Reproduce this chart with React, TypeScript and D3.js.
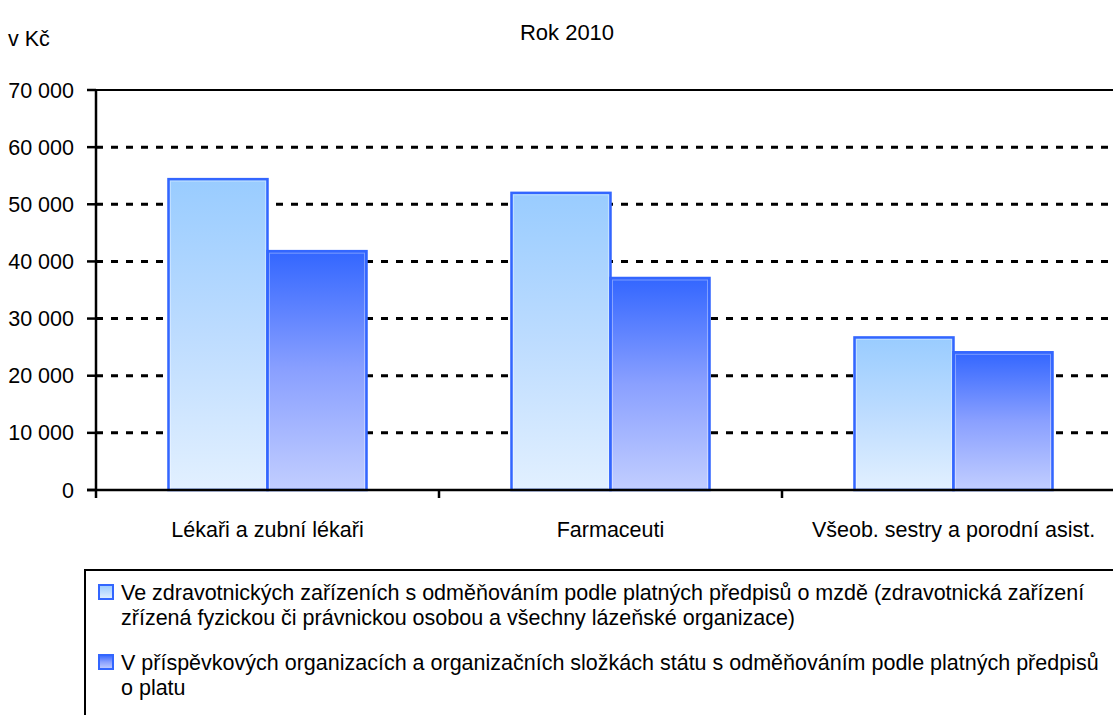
import { useEffect, useRef } from 'react';
import * as d3 from 'd3';

// Chart data (values in CZK)
const categories = ['Lékaři a zubní lékaři', 'Farmaceuti', 'Všeob. sestry a porodní asist.'];
const seriesNames = [
  'Ve zdravotnických zařízeních s odměňováním podle platných předpisů o mzdě (zdravotnická zařízení zřízená fyzickou či právnickou osobou a všechny lázeňské organizace)',
  'V příspěvkových organizacích a organizačních složkách státu s odměňováním podle platných předpisů o platu',
];
const legendLines = [
  ['Ve zdravotnických zařízeních s odměňováním podle platných předpisů o mzdě (zdravotnická zařízení', 'zřízená fyzickou či právnickou osobou a všechny lázeňské organizace)'],
  ['V příspěvkových organizacích a organizačních složkách státu s odměňováním podle platných předpisů', 'o platu'],
];
const mzdaValues = [54400, 52000, 26700];
const platValues = [41800, 37100, 24100];
const yTicks = [0, 10000, 20000, 30000, 40000, 50000, 60000, 70000];
const title = 'Rok 2010';
const unitLabel = 'v Kč';

export default function App() {
  const svgRef = useRef<SVGSVGElement>(null);

  useEffect(() => {
    const svg = d3.select(svgRef.current);
    svg.selectAll('*').remove();

    const W = 1113;
    const H = 715;
    const left = 96;
    const top = 90;
    const bottom = 490;
    const font = '"Liberation Sans", Arial, sans-serif';
    const fs = '21.5px';

    svg.attr('width', W).attr('height', H);

    const defs = svg.append('defs');
    const grads = [
      { id: 'g-mzda', stops: [['0%', '#99ccff'], ['50%', '#bddcff'], ['100%', '#e2f0ff']] },
      { id: 'g-plat', stops: [['0%', '#3366ff'], ['50%', '#8aa0ff'], ['100%', '#c2ceff']] },
    ];
    grads.forEach(g => {
      const lg = defs.append('linearGradient')
        .attr('id', g.id)
        .attr('x1', '0%').attr('y1', '0%')
        .attr('x2', '0%').attr('y2', '100%');
      g.stops.forEach(([o, c]) => lg.append('stop').attr('offset', o).attr('stop-color', c));
    });

    const y = d3.scaleLinear().domain([0, 70000]).range([bottom, top]);
    const x0 = d3.scaleBand<string>().domain(categories).range([left, left + 343 * 3]);
    const x1 = d3.scaleBand<number>()
      .domain([0, 1])
      .range([0, x0.bandwidth()])
      .paddingInner(0)
      .paddingOuter(0.732);

    // gridlines
    svg.append('g')
      .selectAll('line')
      .data(yTicks.filter(t => t > 0 && t < 70000))
      .join('line')
      .attr('x1', left)
      .attr('x2', W)
      .attr('y1', d => y(d))
      .attr('y2', d => y(d))
      .attr('stroke', '#000')
      .attr('stroke-width', 3)
      .attr('stroke-dasharray', '7 8');

    // top border
    svg.append('line')
      .attr('x1', left).attr('x2', W)
      .attr('y1', y(70000)).attr('y2', y(70000))
      .attr('stroke', '#000').attr('stroke-width', 2);

    // bars
    const seriesVals = [mzdaValues, platValues];
    seriesVals.forEach((vals, si) => {
      const g = svg.append('g');
      g.selectAll('rect.bar')
        .data(vals)
        .join('rect')
        .attr('class', 'bar')
        .attr('x', (d, i) => (x0(categories[i]) || 0) + (x1(si) || 0))
        .attr('y', d => y(d))
        .attr('width', x1.bandwidth())
        .attr('height', d => bottom - y(d))
        .attr('fill', si === 0 ? 'url(#g-mzda)' : 'url(#g-plat)')
        .attr('stroke', '#3366ff')
        .attr('stroke-width', 2.5);
      g.selectAll('rect.hl')
        .data(vals)
        .join('rect')
        .attr('class', 'hl')
        .attr('x', (d, i) => (x0(categories[i]) || 0) + (x1(si) || 0) + 2)
        .attr('y', d => y(d) + 2)
        .attr('width', x1.bandwidth() - 4)
        .attr('height', d => bottom - y(d) - 2)
        .attr('fill', 'none')
        .attr('stroke', '#ffffff')
        .attr('stroke-opacity', 0.35)
        .attr('stroke-width', 1);
    });

    // axes
    svg.append('line')
      .attr('x1', left).attr('x2', left)
      .attr('y1', top).attr('y2', bottom + 8)
      .attr('stroke', '#000').attr('stroke-width', 2.5);
    svg.append('line')
      .attr('x1', left - 9).attr('x2', W)
      .attr('y1', bottom).attr('y2', bottom)
      .attr('stroke', '#000').attr('stroke-width', 2.5);

    svg.append('g')
      .selectAll('line')
      .data(yTicks)
      .join('line')
      .attr('x1', left - 9).attr('x2', left)
      .attr('y1', d => y(d)).attr('y2', d => y(d))
      .attr('stroke', '#000').attr('stroke-width', 2.5);

    svg.append('g')
      .selectAll('line')
      .data(categories.slice(1))
      .join('line')
      .attr('x1', d => x0(d) || 0).attr('x2', d => x0(d) || 0)
      .attr('y1', bottom).attr('y2', bottom + 8)
      .attr('stroke', '#000').attr('stroke-width', 2.5);

    const fmt = (v: number) => d3.format(',')(v).replace(/,/g, ' ');
    svg.append('g')
      .selectAll('text')
      .data(yTicks)
      .join('text')
      .attr('x', 74)
      .attr('y', d => y(d))
      .attr('dy', '0.35em')
      .attr('text-anchor', 'end')
      .style('font-family', font)
      .style('font-size', fs)
      .text(d => fmt(d));

    svg.append('g')
      .selectAll('text')
      .data(categories)
      .join('text')
      .attr('x', d => (x0(d) || 0) + x0.bandwidth() / 2)
      .attr('y', 537)
      .attr('text-anchor', 'middle')
      .style('font-family', font)
      .style('font-size', fs)
      .text(d => d);

    svg.append('text')
      .attr('x', 567)
      .attr('y', 40)
      .attr('text-anchor', 'middle')
      .style('font-family', font)
      .style('font-size', '22px')
      .text(title);

    svg.append('text')
      .attr('x', 8)
      .attr('y', 46)
      .style('font-family', font)
      .style('font-size', fs)
      .text(unitLabel);

    // legend
    svg.append('path')
      .attr('d', `M85,${H} V570 H${W}`)
      .attr('fill', 'none')
      .attr('stroke', '#000')
      .attr('stroke-width', 2);

    const legendY = [585, 655];
    seriesNames.forEach((name, i) => {
      const lg = svg.append('g');
      lg.append('rect')
        .attr('x', 99).attr('y', legendY[i])
        .attr('width', 14).attr('height', 14)
        .attr('fill', i === 0 ? 'url(#g-mzda)' : 'url(#g-plat)')
        .attr('stroke', '#3366ff')
        .attr('stroke-width', 2);
      const t = lg.append('text')
        .style('font-family', font)
        .style('font-size', fs);
      legendLines[i].forEach((line, j) => {
        t.append('tspan')
          .attr('x', 121)
          .attr('y', legendY[i] + 15 + j * 25)
          .text(line);
      });
      lg.append('title').text(name);
    });
  }, []);

  return (
    <div style={{ position: 'absolute', left: 0, top: 0, background: '#fff' }}>
      <svg ref={svgRef} style={{ display: 'block' }}></svg>
    </div>
  );
}
